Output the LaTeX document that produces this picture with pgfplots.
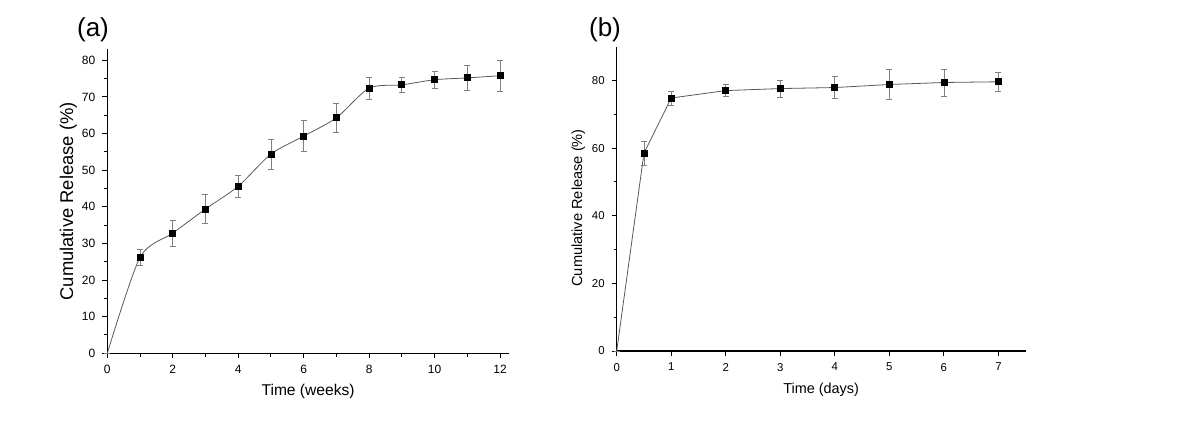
\documentclass[border=0pt]{standalone}
\usepackage{fontspec}
\setmainfont{Liberation Sans}
\usepackage{pgfplots}
\pgfplotsset{compat=1.18}
\usepackage{pgfplotstable}

% release over weeks: time, mean, sd
\pgfplotstableread{
t r e
0 0 0
1 26.2 2.2
2 32.8 3.6
3 39.4 3.9
4 45.6 3.0
5 54.4 4.1
6 59.3 4.2
7 64.3 4.0
8 72.4 3.0
9 73.3 2.1
10 74.7 2.3
11 75.2 3.4
12 75.8 4.3
}\weeks

% release over days
\pgfplotstableread{
t r e
0 0 0
0.5 58.5 3.5
1 74.8 2.1
2 77.0 1.7
3 77.6 2.5
4 77.9 3.2
5 78.8 4.5
6 79.4 4.0
7 79.6 2.7
}\days

\pgfplotsset{
  relaxis/.style={
    scale only axis,
    axis x line=bottom, axis y line=left,
    axis line style={-, line width=0.6pt, black},
    tick align=outside,
    major tick length=2.5pt, minor tick length=1.6pt,
    tick style={black, line width=0.5pt},
    /pgf/number format/assume math mode=true,
    clip=false,
  },
  relplot/.style={
    gray!70!black, line width=0.4pt,
    mark=square*, mark size=1.5pt, mark options={black, fill=black},
    error bars/.cd, y dir=both, y explicit,
    error bar style={gray, line width=0.4pt},
    error mark options={gray, rotate=90, mark size=1.5pt, line width=0.4pt},
    /pgfplots/.cd,
  },
}

\begin{document}
\begin{tikzpicture}
\path[use as bounding box] (0,0) rectangle (600pt,212pt);

\begin{axis}[relaxis,
  at={(53.65pt,35.35pt)}, anchor=south west,
  width=200.8pt, height=152pt,
  xmin=0, xmax=12.27, ymin=0, ymax=83,
  xtick={0,2,...,12}, minor x tick num=1,
  ytick={0,10,...,80}, minor y tick num=1,
  ticklabel style={font=\fontsize{6}{7}\selectfont},
  xlabel={Time (weeks)}, ylabel={Cumulative Release (\%)},
  xlabel style={font=\fontsize{7.8}{9}\selectfont, at={(axis description cs:0.5,-0.126)}, anchor=center},
  ylabel style={font=\fontsize{9.2}{11}\selectfont, at={(axis description cs:-0.097,0.5)}, anchor=center},
]
\addplot+[smooth, tension=0.45, mark indices={2,...,13}, relplot] table[x=t, y=r, y error=e] {\weeks};
\end{axis}

\begin{axis}[relaxis,
  at={(308.35pt,36.5pt)}, anchor=south west,
  width=204.5pt, height=152.2pt,
  xmin=0, xmax=7.5, ymin=0, ymax=90,
  xtick={0,1,...,7},
  ytick={0,20,...,80}, minor y tick num=1,
  ticklabel style={font=\fontsize{5.7}{7}\selectfont},
  xlabel={Time (days)}, ylabel={Cumulative Release (\%)},
  xlabel style={font=\fontsize{7.2}{9}\selectfont, at={(axis description cs:0.5,-0.126)}, anchor=center},
  ylabel style={font=\fontsize{7.3}{9}\selectfont, at={(axis description cs:-0.094,0.47)}, anchor=center},
]
\addplot+[mark indices={2,...,9}, relplot] table[x=t, y=r, y error=e] {\days};
\end{axis}

\node[font=\fontsize{13}{15}\selectfont] at (46.5pt,197pt) {(a)};
\node[font=\fontsize{13}{15}\selectfont] at (302.5pt,197pt) {(b)};
\end{tikzpicture}
\end{document}
